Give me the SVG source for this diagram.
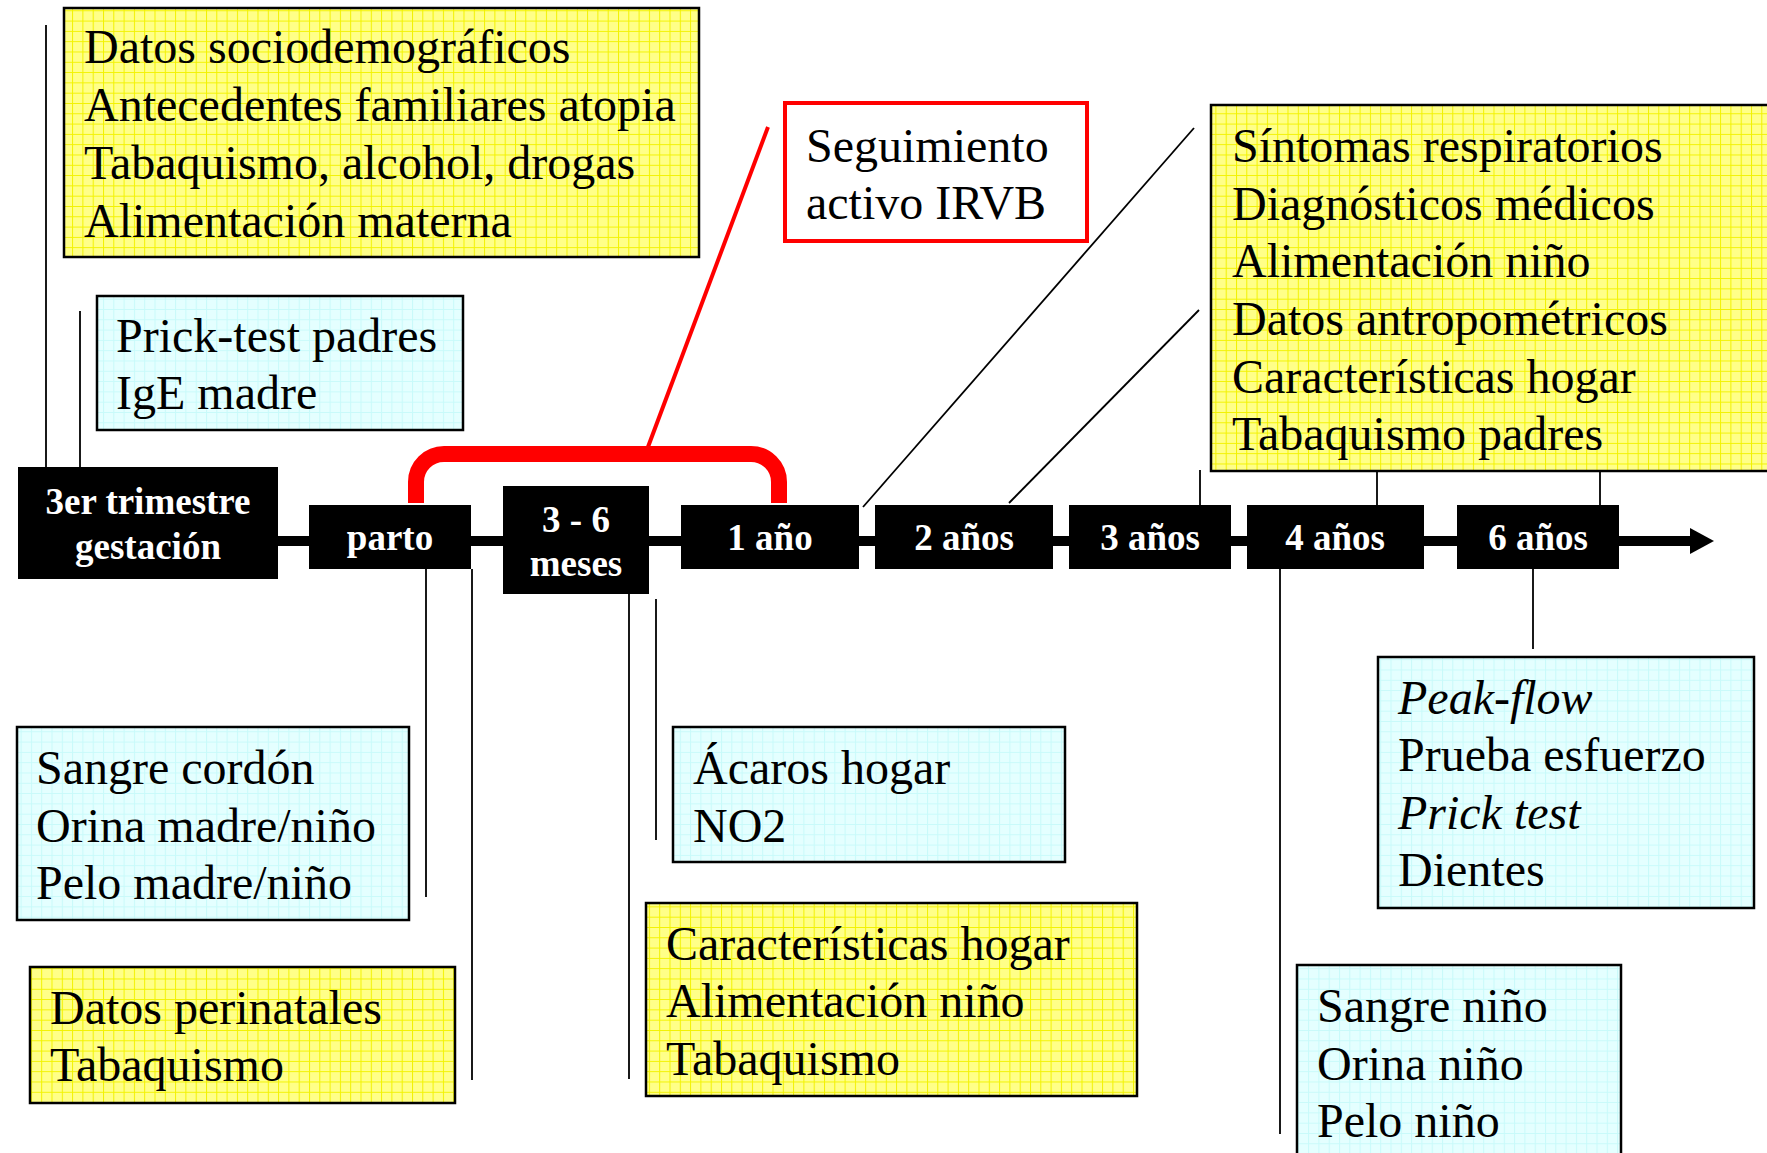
<svg xmlns="http://www.w3.org/2000/svg" width="1767" height="1153" viewBox="0 0 1767 1153">
<defs>
<pattern id="gy" patternUnits="userSpaceOnUse" width="10.3" height="10.3">
<rect width="10.3" height="10.3" fill="#FFFF88"/>
<path d="M0 0.5H10.3M0.5 0V10.3" stroke="#F2F200" stroke-width="1"/>
</pattern>
<pattern id="gc" patternUnits="userSpaceOnUse" width="10.3" height="10.3">
<rect width="10.3" height="10.3" fill="#E4FFFF"/>
<path d="M0 0.5H10.3M0.5 0V10.3" stroke="#C8FAFA" stroke-width="1"/>
</pattern>
</defs>
<style>
.y{fill:url(#gy);stroke:#000;stroke-width:2.5}
.c{fill:url(#gc);stroke:#000;stroke-width:2.5}
.k{fill:#000}
.t{font-family:"Liberation Serif","Times New Roman",serif;font-size:48px;fill:#000}
.w{font-family:"Liberation Serif","Times New Roman",serif;font-size:37px;font-weight:bold;fill:#fff;text-anchor:middle}
.i{font-style:italic}
.ln{stroke:#000;stroke-width:1.8;fill:none}
.rd{stroke:#FF0000;fill:none}
</style>
<rect width="1767" height="1153" fill="#fff"/>
<g id="connectors">
<line class="ln" x1="46" y1="25" x2="46" y2="467"/>
<line class="ln" x1="80" y1="311" x2="80" y2="467"/>
<line class="ln" x1="426" y1="569" x2="426" y2="897"/>
<line class="ln" x1="472" y1="569" x2="472" y2="1080"/>
<line class="ln" x1="629" y1="594" x2="629" y2="1079"/>
<line class="ln" x1="656" y1="599" x2="656" y2="840"/>
<line class="ln" x1="863" y1="507" x2="1194" y2="128"/>
<line class="ln" x1="1009" y1="503" x2="1199" y2="310"/>
<line class="ln" x1="1200" y1="470" x2="1200" y2="505"/>
<line class="ln" x1="1377" y1="471" x2="1377" y2="505"/>
<line class="ln" x1="1600" y1="471" x2="1600" y2="505"/>
<line class="ln" x1="1280" y1="569" x2="1280" y2="1134"/>
<line class="ln" x1="1533" y1="569" x2="1533" y2="649"/>
<line x1="278" y1="541" x2="1692" y2="541" stroke="#000" stroke-width="10"/>
<polygon points="1690,528 1714,541 1690,554" fill="#000"/>
<path class="rd" stroke-width="16" d="M416 503V482A28 28 0 0 1 444 454H751A28 28 0 0 1 779 482V503"/>
<line class="rd" stroke-width="4" x1="648" y1="447" x2="768" y2="127"/>
</g>
<g id="n-sociodemo">
<rect class="y" x="64" y="8" width="635" height="249"/>
<text class="t" x="84" y="63">Datos sociodemográficos</text>
<text class="t" x="84" y="121">Antecedentes familiares atopia</text>
<text class="t" x="84" y="179">Tabaquismo, alcohol, drogas</text>
<text class="t" x="84" y="237">Alimentación materna</text>
</g>
<g id="n-prick-padres">
<rect class="c" x="97" y="296" width="366" height="134"/>
<text class="t" x="116" y="352">Prick-test padres</text>
<text class="t" x="116" y="409">IgE madre</text>
</g>
<g id="n-seguimiento">
<rect x="785" y="103" width="302" height="138" fill="#fff" stroke="#FF0000" stroke-width="4"/>
<text class="t" x="806" y="162">Seguimiento</text>
<text class="t" x="806" y="219">activo IRVB</text>
</g>
<g id="n-sintomas">
<rect class="y" x="1211" y="105" width="600" height="366"/>
<text class="t" x="1232" y="162">Síntomas respiratorios</text>
<text class="t" x="1232" y="220">Diagnósticos médicos</text>
<text class="t" x="1232" y="277">Alimentación niño</text>
<text class="t" x="1232" y="335">Datos antropométricos</text>
<text class="t" x="1232" y="393">Características hogar</text>
<text class="t" x="1232" y="450">Tabaquismo padres</text>
</g>
<g id="t-3er">
<rect class="k" x="18" y="467" width="260" height="112"/>
<text class="w" x="148" y="514">3er trimestre</text>
<text class="w" x="148" y="559">gestación</text>
</g>
<g id="t-parto">
<rect class="k" x="309" y="505" width="162" height="64"/>
<text class="w" x="390" y="550">parto</text>
</g>
<g id="t-meses">
<rect class="k" x="503" y="486" width="146" height="108"/>
<text class="w" x="576" y="532">3 - 6</text>
<text class="w" x="576" y="576">meses</text>
</g>
<g id="t-1ano">
<rect class="k" x="681" y="505" width="178" height="64"/>
<text class="w" x="770" y="550">1 año</text>
</g>
<g id="t-2anos">
<rect class="k" x="875" y="505" width="178" height="64"/>
<text class="w" x="964" y="550">2 años</text>
</g>
<g id="t-3anos">
<rect class="k" x="1069" y="505" width="162" height="64"/>
<text class="w" x="1150" y="550">3 años</text>
</g>
<g id="t-4anos">
<rect class="k" x="1247" y="505" width="177" height="64"/>
<text class="w" x="1335" y="550">4 años</text>
</g>
<g id="t-6anos">
<rect class="k" x="1457" y="505" width="162" height="64"/>
<text class="w" x="1538" y="550">6 años</text>
</g>
<g id="n-sangre-cordon">
<rect class="c" x="17" y="727" width="392" height="193"/>
<text class="t" x="36" y="784">Sangre cordón</text>
<text class="t" x="36" y="842">Orina madre/niño</text>
<text class="t" x="36" y="899">Pelo madre/niño</text>
</g>
<g id="n-perinatales">
<rect class="y" x="30" y="967" width="425" height="136"/>
<text class="t" x="50" y="1024">Datos perinatales</text>
<text class="t" x="50" y="1081">Tabaquismo</text>
</g>
<g id="n-acaros">
<rect class="c" x="673" y="727" width="392" height="135"/>
<text class="t" x="693" y="784">Ácaros hogar</text>
<text class="t" x="693" y="842">NO2</text>
</g>
<g id="n-caracteristicas">
<rect class="y" x="646" y="903" width="491" height="193"/>
<text class="t" x="666" y="960">Características hogar</text>
<text class="t" x="666" y="1017">Alimentación niño</text>
<text class="t" x="666" y="1075">Tabaquismo</text>
</g>
<g id="n-peakflow">
<rect class="c" x="1378" y="657" width="376" height="251"/>
<text class="t i" x="1398" y="714">Peak-flow</text>
<text class="t" x="1398" y="771">Prueba esfuerzo</text>
<text class="t i" x="1398" y="829">Prick test</text>
<text class="t" x="1398" y="886">Dientes</text>
</g>
<g id="n-sangre-nino">
<rect class="c" x="1297" y="965" width="324" height="200"/>
<text class="t" x="1317" y="1022">Sangre niño</text>
<text class="t" x="1317" y="1080">Orina niño</text>
<text class="t" x="1317" y="1137">Pelo niño</text>
</g>
</svg>
